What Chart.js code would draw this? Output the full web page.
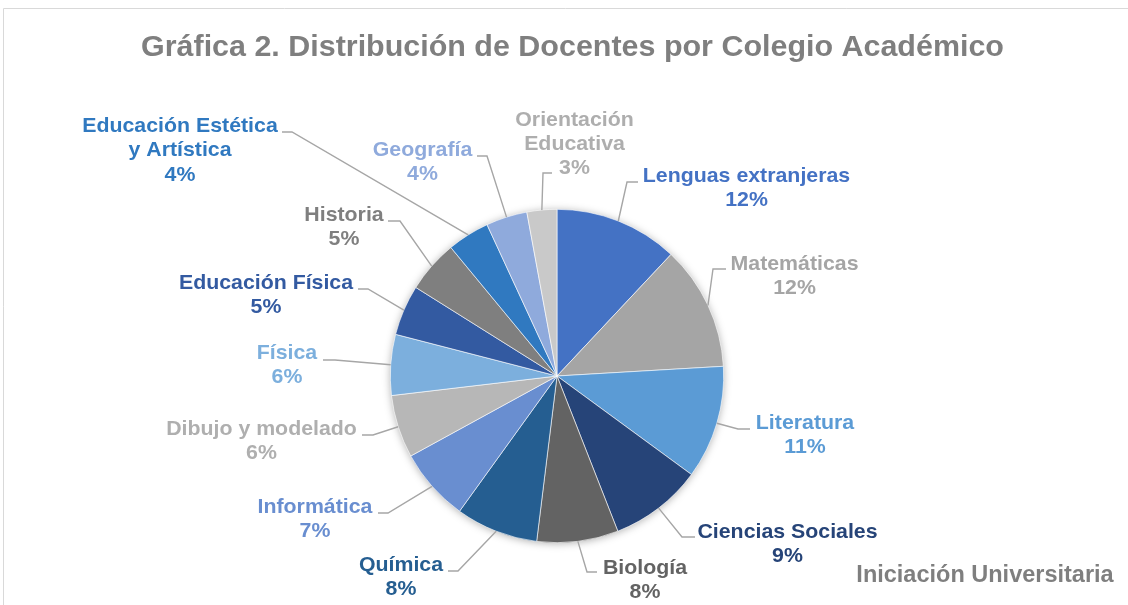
<!DOCTYPE html>
<html>
<head>
<meta charset="utf-8">
<script src="https://cdn.jsdelivr.net/npm/chart.js@4.4.0/dist/chart.umd.min.js"></script>
<style>
  html, body { margin:0; padding:0; background:#fff; }
  #wrap { position:relative; width:1128px; height:605px; }
</style>
</head>
<body>
<div id="wrap"><canvas id="pieChart" width="1128" height="605"></canvas></div>
<script>
// Datos (porcentaje de docentes por colegio)
const chartTitle = "Gráfica 2. Distribución de Docentes por Colegio Académico";
const categories = [
  "Lenguas extranjeras", "Matemáticas", "Literatura", "Ciencias Sociales",
  "Biología", "Química", "Informática", "Dibujo y modelado", "Física",
  "Educación Física", "Historia", "Educación Estética\ny Artística",
  "Geografía", "Orientación\nEducativa", "Iniciación Universitaria"
];
const values = [12.0, 12.1, 11.0, 9.0, 7.9, 8.0, 7.1, 6.1, 5.9, 4.9, 5.1, 4.1, 4.0, 2.9, 0];
const sliceColors = [
  "#4472C4", "#A5A5A5", "#5B9BD5", "#264478", "#636363", "#255E91", "#698ED0",
  "#B7B7B7", "#7CAFDD", "#335AA1", "#7F7F7F", "#3079C0", "#8FAADC", "#C9C9C9", "#7F7F7F"
];
const labelColors = [
  "#4472C4", "#A5A5A5", "#5B9BD5", "#264478", "#636363", "#255E91", "#698ED0",
  "#AFAFAF", "#7CAFDD", "#335AA1", "#7F7F7F", "#3079C0", "#8FAADC", "#AEAEAE", "#7F7F7F"
];

// posición de las etiquetas (centro x, línea base de la 1a línea) y de sus líneas guía
const labelLayout = [
  { x: 746.5, y: 182, elbow: [627, 182], end: [638, 182] },
  { x: 794.5, y: 270, elbow: [713, 269], end: [726, 269] },
  { x: 805,   y: 429, elbow: [738, 429], end: [750, 429] },
  { x: 787.5, y: 538, elbow: [682, 537], end: [695, 537] },
  { x: 645,   y: 574, elbow: [587, 572], end: [597, 572] },
  { x: 401,   y: 571, elbow: [458, 571], end: [448, 571] },
  { x: 315,   y: 513, elbow: [388, 513], end: [378, 513] },
  { x: 261.5, y: 435, elbow: [373, 435], end: [362, 435] },
  { x: 287,   y: 359, elbow: [335, 360], end: [323, 360] },
  { x: 266,   y: 289, elbow: [368, 289], end: [358, 289] },
  { x: 344,   y: 221, elbow: [400, 221], end: [388, 221] },
  { x: 180,   y: 132, elbow: [292, 132], end: [282, 132] },
  { x: 422.5, y: 156, elbow: [487, 156], end: [477, 156] },
  { x: 574.5, y: 125.5, elbow: [543, 173], end: [552, 173] },
  { x: 985,   y: 582, noLeader: true, big: true }
];

const FONT = '"Liberation Sans", Arial, sans-serif';
const total = values.reduce((a, b) => a + b, 0);

function drawScaled(ctx, text, x, y, sx) {
  ctx.save();
  ctx.translate(x, y);
  ctx.scale(sx, 1);
  ctx.fillText(text, 0, 0);
  ctx.restore();
}

const decorPlugin = {
  id: "decor",
  beforeDraw(chart) {
    const ctx = chart.ctx;
    ctx.save();
    // marco del gráfico
    ctx.strokeStyle = "#D9D9D9";
    ctx.lineWidth = 1;
    ctx.beginPath();
    ctx.moveTo(3.5, 605);
    ctx.lineTo(3.5, 8.5);
    ctx.lineTo(1128, 8.5);
    ctx.stroke();
    // título
    ctx.fillStyle = "#7F7F7F";
    ctx.font = "bold 29px " + FONT;
    ctx.textAlign = "center";
    ctx.textBaseline = "alphabetic";
    drawScaled(ctx, chartTitle, 572.5, 56, 1.05);
    ctx.restore();
  },
  beforeDatasetsDraw(chart) {
    // sombra suave del pastel
    const arc = chart.getDatasetMeta(0).data[0];
    const ctx = chart.ctx;
    ctx.save();
    ctx.shadowColor = "rgba(0,0,0,0.35)";
    ctx.shadowBlur = 9;
    ctx.shadowOffsetY = 1;
    ctx.fillStyle = "#fff";
    ctx.beginPath();
    ctx.arc(arc.x, arc.y, arc.outerRadius - 0.5, 0, Math.PI * 2);
    ctx.fill();
    ctx.restore();
  },
  afterDatasetsDraw(chart) {
    const ctx = chart.ctx;
    const meta = chart.getDatasetMeta(0);
    ctx.save();
    ctx.textAlign = "center";
    ctx.textBaseline = "alphabetic";
    meta.data.forEach((arc, i) => {
      const lay = labelLayout[i];
      const p = arc.getProps(["x", "y", "startAngle", "endAngle", "outerRadius"], true);
      if (!lay.noLeader) {
        const mid = (p.startAngle + p.endAngle) / 2;
        ctx.strokeStyle = "#A6A6A6";
        ctx.lineWidth = 1.4;
        ctx.beginPath();
        ctx.moveTo(p.x + Math.cos(mid) * p.outerRadius, p.y + Math.sin(mid) * p.outerRadius);
        ctx.lineTo(lay.elbow[0], lay.elbow[1]);
        ctx.lineTo(lay.end[0], lay.end[1]);
        ctx.stroke();
      }
      ctx.fillStyle = labelColors[i];
      let lines = categories[i].split("\n");
      if (lay.big) {
        ctx.font = "bold 23.5px " + FONT;
        drawScaled(ctx, lines[0], lay.x, lay.y, 1.0);
        return;
      }
      lines = lines.concat([Math.round(values[i] / total * 100) + "%"]);
      ctx.font = "bold 20.5px " + FONT;
      lines.forEach((t, k) => drawScaled(ctx, t, lay.x, lay.y + k * 24.4, 1.04));
    });
    ctx.restore();
  }
};

new Chart(document.getElementById("pieChart"), {
  type: "pie",
  data: {
    labels: categories,
    datasets: [{
      data: values,
      backgroundColor: sliceColors,
      borderColor: "#ffffff",
      borderWidth: 0.6,
      hoverOffset: 0
    }]
  },
  options: {
    responsive: false,
    animation: false,
    devicePixelRatio: 1,
    layout: { padding: { left: 390, right: 404, top: 209, bottom: 62 } },
    plugins: {
      legend: { display: false },
      title: { display: false },
      tooltip: { enabled: false }
    }
  },
  plugins: [decorPlugin]
});
</script>
</body>
</html>
